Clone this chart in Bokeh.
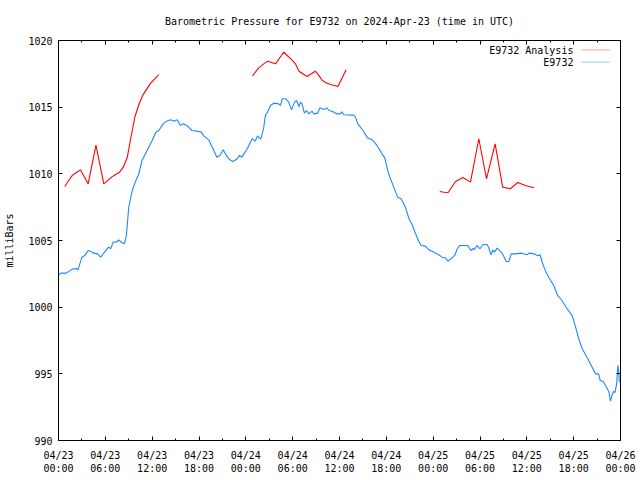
from bokeh.plotting import figure
from bokeh.models import Range1d, FixedTicker, LinearAxis, Label, PolyAnnotation
from bokeh.embed import file_html
from bokeh.resources import INLINE

# ---- data (hours since 2024-04-23 00:00 UTC) ----
station_hours = [0.0, 0.3, 1.0, 1.75, 2.3, 2.5, 3.0, 3.4, 3.8, 4.2, 4.5, 5.0, 5.4, 5.8, 6.4, 6.7,
                 7.0, 7.5, 7.7, 8.1, 8.45, 8.7, 9.0, 9.45, 9.85, 10.3, 10.7, 11.35, 12.0, 12.45,
                 12.85, 13.4, 13.85, 14.35, 14.8, 15.2, 15.6, 16.0, 16.5, 17.1, 17.8, 18.3, 18.6,
                 19.25, 19.7, 20.3, 20.7, 21.1, 21.5, 21.95, 22.37, 22.9, 23.2, 23.5, 24.2, 24.8,
                 25.2, 25.5, 25.9, 26.1, 26.3, 26.5, 26.8, 27.15, 27.6, 28.2, 28.45, 28.65, 29.1,
                 29.5, 29.85, 30.25, 30.5, 30.8, 31.0, 31.2, 31.5, 31.77, 32.07, 32.5, 32.7, 33.2,
                 33.5, 34.0, 34.4, 34.65, 35.05, 35.6, 36.1, 36.3, 36.55, 37.8, 38.05, 38.35, 39.0,
                 39.6, 40.2, 40.8, 41.45, 41.8, 42.3, 42.95, 43.45, 43.9, 44.45, 44.9, 45.3, 45.75,
                 46.15, 46.45, 47.0, 47.45, 48.05, 48.7, 49.15, 49.55, 49.9, 50.4, 50.75, 51.1,
                 51.4, 52.4, 52.85, 53.1, 53.3, 53.6, 54.0, 54.4, 54.9, 55.1, 55.4, 55.65, 55.85,
                 56.2, 56.85, 57.35, 57.7, 58.0, 58.5, 59.3, 60.0, 60.3, 60.9, 61.4, 61.7, 61.97,
                 62.4, 62.8, 63.45, 63.95, 64.5, 65.15, 65.8, 66.25, 66.65, 67.1, 67.7, 68.25,
                 68.8, 69.2, 69.4, 69.8, 70.2, 70.5, 70.72, 70.9, 71.1, 71.3, 71.5, 71.67, 71.78,
                 71.85]
station_mb = [1002.4, 1002.55, 1002.55, 1002.85, 1002.9, 1002.8, 1003.75, 1003.9, 1004.25, 1004.15,
              1004.05, 1004.0, 1003.75, 1004.05, 1004.5, 1004.4, 1004.88, 1004.9, 1005.05, 1004.85,
              1004.75, 1005.4, 1007.5, 1008.75, 1009.4, 1010.0, 1011.0, 1011.75, 1012.5, 1013.1,
              1013.25, 1013.75, 1013.95, 1014.05, 1013.95, 1014.05, 1013.65, 1013.75, 1013.6,
              1013.25, 1013.2, 1013.13, 1012.85, 1012.55, 1012.0, 1011.25, 1011.4, 1011.8, 1011.38,
              1011.05, 1010.93, 1011.13, 1011.38, 1011.25, 1011.9, 1012.63, 1012.45, 1012.83,
              1012.6, 1013.0, 1013.5, 1014.38, 1014.63, 1015.13, 1015.3, 1015.25, 1015.13, 1015.63,
              1015.63, 1015.38, 1014.8, 1015.38, 1015.5, 1015.05, 1015.38, 1015.25, 1014.55,
              1014.75, 1014.5, 1014.7, 1014.5, 1014.55, 1014.95, 1014.83, 1014.93, 1014.75, 1014.7,
              1014.5, 1014.5, 1014.65, 1014.43, 1014.4, 1014.25, 1013.75, 1013.25, 1012.7, 1012.55,
              1012.13, 1011.5, 1011.2, 1010.0, 1009.0, 1008.25, 1008.13, 1007.5, 1006.63, 1006.2,
              1005.5, 1004.95, 1004.63, 1004.58, 1004.3, 1004.13, 1003.93, 1003.75, 1003.7,
              1003.45, 1003.7, 1003.88, 1004.38, 1004.63, 1004.63, 1004.25, 1004.4, 1004.33,
              1004.63, 1004.38, 1004.7, 1004.7, 1004.5, 1003.93, 1004.3, 1004.13, 1004.43, 1004.05,
              1003.43, 1003.43, 1004.0, 1004.0, 1004.05, 1003.93, 1004.05, 1004.0, 1003.85,
              1003.93, 1003.35, 1002.7, 1002.25, 1001.63, 1000.88, 1000.5, 999.88, 999.38, 998.5,
              997.63, 996.88, 996.25, 995.63, 995.0, 995.0, 994.5, 994.4, 994.0, 993.68, 992.95,
              993.38, 993.68, 993.6, 994.25, 995.63, 995.13, 994.38]

analysis_hours_1 = [0.8, 1.3, 1.8, 2.3, 2.8, 3.8, 4.8, 5.8, 6.8, 7.3, 7.8, 8.3, 8.8, 9.3, 9.8,
                    10.3, 10.8, 11.3, 11.8, 12.3, 12.85]
analysis_mb_1 = [1009.05, 1009.5, 1009.9, 1010.1, 1010.3, 1009.25, 1012.15, 1009.25, 1009.75,
                 1009.95, 1010.1, 1010.5, 1011.2, 1012.8, 1014.3, 1015.2, 1015.9, 1016.35, 1016.8,
                 1017.1, 1017.45]
analysis_hours_2 = [24.85, 25.65, 26.3, 26.8, 27.8, 28.85, 29.9, 30.36, 30.8, 31.2, 31.85, 32.9,
                    33.35, 33.8, 34.4, 34.85, 35.8, 36.85]
analysis_mb_2 = [1017.35, 1017.95, 1018.25, 1018.45, 1018.25, 1019.12, 1018.55, 1018.25, 1017.7,
                 1017.55, 1017.3, 1017.7, 1017.38, 1017.0, 1016.8, 1016.7, 1016.55, 1017.8]
analysis_hours_3 = [48.85, 49.4, 49.93, 50.86, 51.8, 52.78, 53.85, 54.83, 55.94, 56.9, 57.9,
                    58.84, 59.8, 60.9]
analysis_mb_3 = [1008.68, 1008.62, 1008.6, 1009.43, 1009.72, 1009.38, 1012.63, 1009.63, 1012.25,
                 1009.0, 1008.88, 1009.35, 1009.13, 1008.95]

x_ticks = [0, 6, 12, 18, 24, 30, 36, 42, 48, 54, 60, 66, 72]
x_tick_labels = ["04/23\n00:00", "04/23\n06:00", "04/23\n12:00", "04/23\n18:00",
                 "04/24\n00:00", "04/24\n06:00", "04/24\n12:00", "04/24\n18:00",
                 "04/25\n00:00", "04/25\n06:00", "04/25\n12:00", "04/25\n18:00",
                 "04/26\n00:00"]
y_ticks = [990, 995, 1000, 1005, 1010, 1015, 1020]
series_names = ["E9732 Analysis", "E9732"]

FONT = "DejaVu Sans Mono"
RED = "#ff0000"
BLUE = "#1e88ff"

p = figure(width=640, height=480, output_backend="svg", toolbar_location=None,
           x_range=Range1d(0, 72), y_range=Range1d(990, 1020),
           min_border_left=58, min_border_right=20, min_border_top=40, min_border_bottom=40,
           x_axis_type=None, y_axis_type=None)
p.grid.visible = False
p.outline_line_color = "black"
p.outline_line_width = 1
p.background_fill_color = "white"
p.border_fill_color = "white"

p.title.text = "Barometric Pressure for E9732 on 2024-Apr-23 (time in UTC)"
p.title.text_font = FONT
p.title.text_font_size = "10px"
p.title.text_font_style = "normal"
p.title.text_color = "black"
p.title.align = "center"
p.title.standoff = 27

xticker = FixedTicker(ticks=x_ticks, minor_ticks=[t + 3 for t in x_ticks[:-1]])
yticker = FixedTicker(ticks=y_ticks, minor_ticks=[])

def style(ax, show_labels):
    ax.axis_line_color = "black"
    ax.major_tick_in = 4
    ax.major_tick_out = 0
    ax.minor_tick_in = 2
    ax.minor_tick_out = 0
    ax.major_tick_line_color = "black"
    ax.minor_tick_line_color = "black"
    ax.major_label_text_font = FONT
    if show_labels:
        ax.major_label_text_font_size = "10px"
        ax.major_label_text_color = "black"
    else:
        # mirror axis: ticks only, labels not drawn at all
        ax.major_label_text_font_size = "1px"
        ax.major_label_text_color = None
        ax.major_label_standoff = 0

xb = LinearAxis(ticker=xticker)
xb.major_label_overrides = {float(t): lab for t, lab in zip(x_ticks, x_tick_labels)}
style(xb, True)
xb.major_label_standoff = 9
p.add_layout(xb, "below")

xt = LinearAxis(ticker=xticker)
style(xt, False)
p.add_layout(xt, "above")

yl = LinearAxis(ticker=yticker, axis_label="milliBars")
style(yl, True)
yl.major_label_standoff = 6
yl.axis_label_text_font = FONT
yl.axis_label_text_font_size = "10px"
yl.axis_label_text_font_style = "normal"
yl.axis_label_text_color = "black"
yl.axis_label_standoff = 10
p.add_layout(yl, "left")

yr = LinearAxis(ticker=yticker)
style(yr, False)
yr.minor_tick_line_color = None
p.add_layout(yr, "right")

# data lines
p.line(analysis_hours_1, analysis_mb_1, line_color=RED, line_width=1.1)
p.line(analysis_hours_2, analysis_mb_2, line_color=RED, line_width=1.1)
p.line(analysis_hours_3, analysis_mb_3, line_color=RED, line_width=1.1)
p.line(station_hours, station_mb, line_color=BLUE, line_width=1.1)

# gnuplot-style key (text right-aligned, sample line to its right)
key_rows = [(1019.23, 1019.29, RED), (1018.33, 1018.37, BLUE)]
for name, (ty, ly, col) in zip(series_names, key_rows):
    p.add_layout(Label(x=65.97, y=ty, text=name, text_align="right", text_baseline="middle",
                       text_font=FONT, text_font_size="10px", text_color="black"))
    p.add_layout(PolyAnnotation(xs=[67.0, 70.6], ys=[ly, ly], line_color=col, line_width=1.3,
                                fill_alpha=0))

open("out.html", "w").write(file_html(p, INLINE))
